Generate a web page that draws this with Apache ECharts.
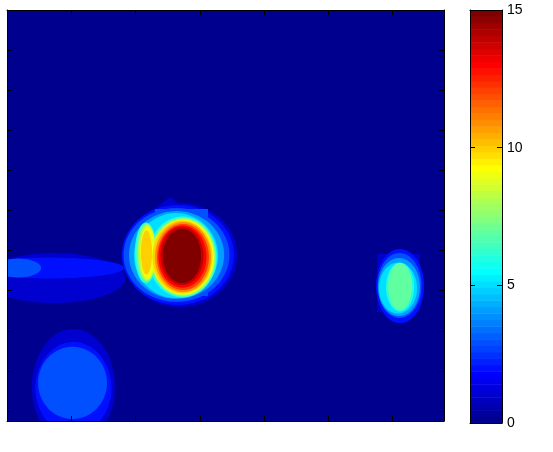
<!DOCTYPE html>
<html><head><meta charset="utf-8">
<script src="https://cdn.jsdelivr.net/npm/echarts@6/dist/echarts.min.js"></script>
<style>html,body{margin:0;padding:0;background:#fff}#c{width:553px;height:452px}</style>
</head><body><div id="c"></div>
<script>
// ---- axes ----
const xRange = [0, 340];
const xTickStep = 50;
const yRange = [0, 205];
const yTickStep = 20;
const colorRange = [0, 15];
const colorTickStep = 5;
const colormapSize = 64;

// ---- contour bands: [level, cx, cy, rx, ry] (data units) ----
const cornerBlob = [
  [1, 51.7, 188.0, 32.3, 28.9],
  [2, 51.7, 188.5, 29.6, 22.9],
  [3, 51.0, 186.0, 26.8, 18.0]
];
const leftBand = [
  [1, 36.6, 133.7, 55.2, 12.5],
  [2, 33.5, 128.7, 57.6, 5.2],
  [3, 8.6, 128.7, 17.9, 4.7]
];
const rightBlob = [
  [2, 305.8, 137.7, 18.7, 18.5],
  [3, 305.4, 137.4, 17.1, 16.2],
  [4, 305.0, 138.2, 16.3, 14.5],
  [5, 304.2, 138.7, 14.8, 12.7],
  [6, 305.8, 138.2, 10.9, 12.2],
  [7, 305.8, 137.9, 9.3, 11.7]
];
const bigBlob = [
  [1, 134.6, 122.2, 44.3, 25.9],
  [2, 133.0, 122.2, 43.6, 24.9],
  [3, 131.9, 122.2, 41.2, 23.4],
  [4, 131.9, 122.2, 37.0, 21.9],
  [5, 131.5, 122.5, 32.7, 21.2],
  [6, 136.5, 123.2, 26.8, 20.2],
  [7, 136.9, 123.2, 25.7, 19.7],
  [8, 136.9, 123.2, 24.9, 19.2],
  [9, 136.9, 123.2, 24.1, 18.7],
  [10, 136.5, 123.2, 23.3, 18.2],
  [11, 136.9, 123.2, 21.8, 17.5],
  [12, 136.9, 123.2, 20.2, 16.5],
  [13, 136.5, 123.0, 18.7, 15.5],
  [14, 136.2, 122.7, 16.7, 14.5],
  [15, 136.2, 122.7, 14.8, 13.5]
];
const sideLobe = [
  [6, 108.1, 121.2, 8.6, 15.2],
  [7, 108.5, 121.0, 7.8, 14.5],
  [8, 108.9, 121.0, 7.0, 14.0],
  [9, 109.3, 121.0, 5.8, 13.2],
  [10, 108.5, 121.0, 4.3, 11.0]
];
// rectangular patches: [level, x1, y1, x2, y2]
const rectPatches = [
  [1, 287.9, 121.7, 321.3, 150.6],
  [3, 115.1, 99.3, 156.4, 142.7]
];
// triangular patches: [level, x1, y1, x2, y2, x3, y3]
const triPatches = [
  [1, 111.3, 100.8, 126.8, 93.3, 143.9, 100.8]
];

// ---- jet colormap (MATLAB style, 64 rows) ----
function jetRow(i) {
  const u = k => (k >= 1 && k <= 47) ? (k <= 16 ? k / 16 : (k <= 31 ? 1 : (48 - k) / 16)) : 0;
  const c = [u(i - 24), u(i - 8), u(i + 8)].map(v => Math.round(v * 255));
  return 'rgb(' + c.join(',') + ')';
}
function levelColor(v) {
  const idx = Math.min(colormapSize, Math.floor((v - colorRange[0]) / (colorRange[1] - colorRange[0]) * colormapSize) + 1);
  return jetRow(idx);
}

// ---- build shape list ----
const shapes = [];
[cornerBlob, leftBand, rightBlob, bigBlob, sideLobe].forEach(arr => arr.forEach(e => shapes.push([0, e[0], e[1], e[2], e[3], e[4], 0, 0])));
rectPatches.forEach(r => shapes.push([1, r[0], r[1], r[2], r[3], r[4], 0, 0]));
triPatches.forEach(t => shapes.push([2, t[0], t[1], t[2], t[3], t[4], t[5], t[6]]));
shapes.sort((a, b) => a[1] - b[1]);

const bands = [];
for (let i = 1; i <= colormapSize; i++) bands.push([i]);

function renderShape(params, api) {
  const kind = api.value(0), level = api.value(1);
  const v = [2, 3, 4, 5, 6, 7].map(d => api.value(d));
  let pts = [];
  if (kind === 0) {
    for (let k = 0; k < 120; k++) {
      const t = k / 120 * 2 * Math.PI;
      pts.push(api.coord([v[0] + v[2] * Math.cos(t), v[1] + v[3] * Math.sin(t)]));
    }
  } else if (kind === 1) {
    pts = [api.coord([v[0], v[1]]), api.coord([v[2], v[1]]), api.coord([v[2], v[3]]), api.coord([v[0], v[3]])];
  } else {
    pts = [api.coord([v[0], v[1]]), api.coord([v[2], v[3]]), api.coord([v[4], v[5]])];
  }
  const cs = params.coordSys;
  return {
    type: 'polygon', shape: { points: pts }, style: { fill: levelColor(level) },
    clipPath: { type: 'rect', shape: { x: cs.x, y: cs.y, width: cs.width, height: cs.height } }
  };
}
function renderBand(params, api) {
  const i = api.value(0);
  const step = (colorRange[1] - colorRange[0]) / colormapSize;
  const p1 = api.coord([0, colorRange[0] + (i - 1) * step]);
  const p2 = api.coord([1, colorRange[0] + i * step]);
  return { type: 'rect', shape: { x: p1[0], y: p2[1], width: p2[0] - p1[0], height: p1[1] - p2[1] + 0.5 }, style: { fill: jetRow(i) } };
}

const line = { show: true, onZero: false, lineStyle: { color: '#000', width: 1 } };
const tick = { show: true, inside: true, length: 5, lineStyle: { color: '#000', width: 1 } };
const font = { fontFamily: 'Liberation Sans', fontSize: 14, color: '#000' };

function mainX(pos) {
  return { type: 'value', gridIndex: 0, position: pos, min: xRange[0], max: xRange[1], interval: xTickStep, z: 10,
    axisLine: line, axisTick: tick, axisLabel: { show: false }, splitLine: { show: false } };
}
function mainY(pos) {
  return { type: 'value', gridIndex: 0, position: pos, inverse: true, min: yRange[0], max: yRange[1], interval: yTickStep, z: 10,
    axisLine: line, axisTick: tick, axisLabel: { show: false }, splitLine: { show: false } };
}
function barX(pos) {
  return { type: 'value', gridIndex: 1, position: pos, min: 0, max: 1, z: 10,
    axisLine: line, axisTick: { show: false }, axisLabel: { show: false }, splitLine: { show: false } };
}
function barY(pos, labels) {
  return { type: 'value', gridIndex: 1, position: pos, min: colorRange[0], max: colorRange[1], interval: colorTickStep, z: 10,
    axisLine: line, axisTick: tick,
    axisLabel: labels ? Object.assign({ show: true, margin: 5 }, font) : { show: false },
    splitLine: { show: false } };
}

const chart = echarts.init(document.getElementById('c'), null, { renderer: 'canvas' });
chart.setOption({
  animation: false,
  backgroundColor: '#fff',
  grid: [
    { left: 7, top: 10, width: 437, height: 411, show: true, backgroundColor: levelColor(0), borderWidth: 0 },
    { left: 470, top: 10, width: 32, height: 413, show: false }
  ],
  xAxis: [mainX('bottom'), mainX('top'), barX('bottom'), barX('top')],
  yAxis: [mainY('left'), mainY('right'), barY('left', false), barY('right', true)],
  series: [
    { type: 'custom', xAxisIndex: 0, yAxisIndex: 0, renderItem: renderShape, data: shapes, silent: true, z: 1 },
    { type: 'custom', xAxisIndex: 2, yAxisIndex: 2, renderItem: renderBand, data: bands, silent: true, z: 1 }
  ]
});
</script>
</body></html>
